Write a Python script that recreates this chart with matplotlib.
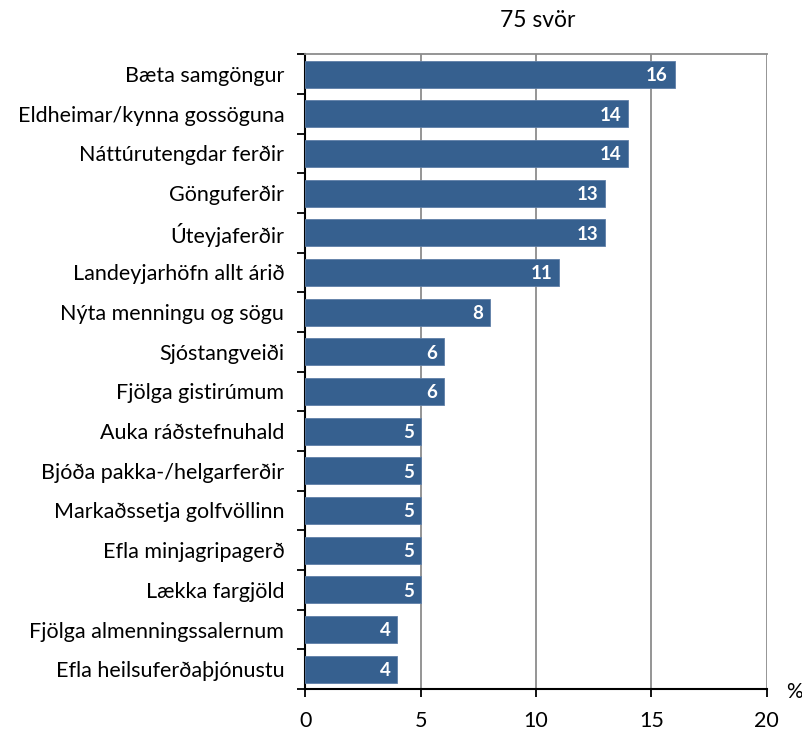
import matplotlib
matplotlib.use("Agg")
import matplotlib.pyplot as plt
from matplotlib.ticker import FixedLocator

categories = [
    "Bæta samgöngur",
    "Eldheimar/kynna gossöguna",
    "Náttúrutengdar ferðir",
    "Gönguferðir",
    "Úteyjaferðir",
    "Landeyjarhöfn allt árið",
    "Nýta menningu og sögu",
    "Sjóstangveiði",
    "Fjölga gistirúmum",
    "Auka ráðstefnuhald",
    "Bjóða pakka-/helgarferðir",
    "Markaðssetja golfvöllinn",
    "Efla minjagripagerð",
    "Lækka fargjöld",
    "Fjölga almenningssalernum",
    "Efla heilsuferðaþjónustu",
]
values = [16, 14, 14, 13, 13, 11, 8, 6, 6, 5, 5, 5, 5, 5, 4, 4]
x_ticks = [0, 5, 10, 15, 20]
title = "75 svör"
unit = "%"

plt.rcParams["font.family"] = ["Lato", "DejaVu Sans"]

fig = plt.figure(figsize=(8.03, 7.33), dpi=100)
ax = fig.add_axes([0.380, 0.060, 0.575, 0.866])

bar_color = "#36608F"
n = len(categories)
ypos = list(range(n))
ax.barh(ypos, values, height=0.68, color=bar_color, edgecolor="#5F7FA8",
        linewidth=0.6, zorder=3)

ax.set_ylim(n - 0.5, -0.5)
ax.set_xlim(0, 20)

# category labels between tick marks
ax.set_yticks(ypos)
ax.set_yticklabels(categories, fontsize=15.5)
ax.yaxis.set_minor_locator(FixedLocator([i - 0.5 for i in range(n + 1)]))
ax.tick_params(axis="y", which="major", length=0, pad=15)
ax.tick_params(axis="y", which="minor", length=6, width=1.3, direction="out",
               color="black")

ax.set_xticks(x_ticks)
ax.set_xticklabels([str(t) for t in x_ticks], fontsize=15.5)
ax.tick_params(axis="x", length=6, width=1.3, direction="out", pad=10)

ax.grid(axis="x", color="#8C8C8C", linewidth=1.3, zorder=0)

for side in ("left", "bottom"):
    ax.spines[side].set_color("black")
    ax.spines[side].set_linewidth(1.5)
ax.spines["top"].set_color("#8C8C8C")
ax.spines["top"].set_linewidth(1.3)
ax.spines["right"].set_visible(False)

for y, v in zip(ypos, values):
    ax.annotate(str(v), xy=(v, y), xytext=(-5, -1), textcoords="offset points",
                ha="right", va="center", color="white", fontsize=13.5,
                fontweight="bold", zorder=4)

fig.text(0.670, 0.972, title, ha="center", va="center", fontsize=16.5)
fig.text(1.0, 0.056, unit, ha="right", va="center", fontsize=15)

fig.savefig("out.png", dpi=100)
